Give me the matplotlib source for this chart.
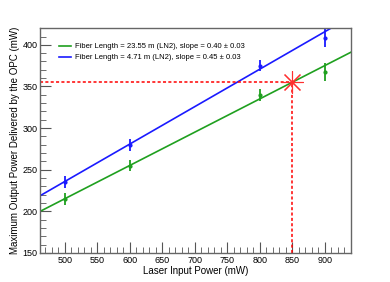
import numpy as np
import matplotlib.pyplot as plt
from matplotlib.ticker import MultipleLocator

plt.rcParams['font.family'] = ['Liberation Sans', 'DejaVu Sans']

# measured points
laser_power = [500, 600, 800, 900]
opc_long = [215, 255, 340, 367]      # 23.55 m fiber
err_long = [7, 7, 7, 11]
opc_short = [235, 280, 375, 408]     # 4.71 m fiber
err_short = [7, 7, 7, 11]

# linear fits (slope, intercept)
fit_long = (0.40, 15.2)
fit_short = (0.45, 10.9)

labels = ['Fiber Length = 23.55 m (LN2), slope = 0.40 \u00b1 0.03',
          'Fiber Length = 4.71 m (LN2), slope = 0.45 \u00b1 0.03']

target_x = 850
target_y = 355

xmin, xmax = 462, 940
ymin, ymax = 150, 420

green = '#1fa01f'
blue = '#1a1aff'

fig = plt.figure(figsize=(3.9, 2.82), dpi=100)
ax = fig.add_axes([0.103, 0.103, 0.797, 0.797])

xs = np.array([xmin, xmax])
ax.plot(xs, fit_long[0] * xs + fit_long[1], color=green, lw=1.2, label=labels[0])
ax.plot(xs, fit_short[0] * xs + fit_short[1], color=blue, lw=1.2, label=labels[1])
ax.errorbar(laser_power, opc_long, yerr=err_long, fmt='o', color=green, ms=2,
            elinewidth=1.3, capsize=0)
ax.errorbar(laser_power, opc_short, yerr=err_short, fmt='o', color=blue, ms=2,
            elinewidth=1.3, capsize=0)

# reading of the 850 mW point
ax.plot([xmin, target_x], [target_y, target_y], color='red', ls=(0, (2, 1.5)), lw=1.1)
ax.plot([target_x, target_x], [ymin, target_y], color='red', ls=(0, (2, 1.5)), lw=1.1)
ax.plot(target_x, target_y, marker=(8, 2, 0), color='#ff3030', ms=16, mew=0.8)

ax.set_xlim(xmin, xmax)
ax.set_ylim(ymin, ymax)
ax.xaxis.set_major_locator(MultipleLocator(50))
ax.xaxis.set_minor_locator(MultipleLocator(10))
ax.yaxis.set_major_locator(MultipleLocator(50))
ax.yaxis.set_minor_locator(MultipleLocator(10))
ax.tick_params(which='both', direction='in', top=False, right=False,
               labelsize=6.5, color='#555555', pad=2)
ax.tick_params(which='major', length=8)
ax.tick_params(which='minor', length=4)
for s in ax.spines.values():
    s.set_color('#666666')
    s.set_linewidth(1.0)

ax.set_xlabel('Laser Input Power (mW)', fontsize=7, labelpad=1)
ax.set_ylabel('Maximum Output Power Delivered by the OPC (mW)', fontsize=7,
              labelpad=2)

ax.legend(loc='upper left', bbox_to_anchor=(0.04, 0.965), frameon=False,
          fontsize=5.5, handlelength=1.5, handletextpad=0.5, labelspacing=0.5)

plt.savefig('out.png', dpi=100)
